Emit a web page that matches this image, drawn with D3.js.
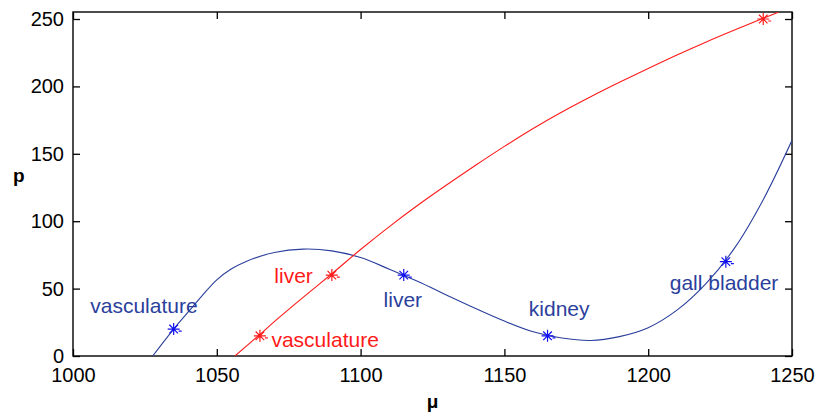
<!DOCTYPE html>
<html>
<head>
<meta charset="utf-8">
<script src="https://cdn.jsdelivr.net/npm/d3@7"></script>
<style>
  body { margin: 0; background: #fff; }
  svg { display: block; font-family: "Liberation Sans", Arial, sans-serif; }
  .axis text { font-size: 20px; fill: #000; }
  .axis line { stroke: #000; stroke-width: 1.3; }
  .axis path { display: none; }
</style>
</head>
<body>
<svg id="chart" width="817" height="412"></svg>
<script>
// blue curve
const blueMu = [1027.7, 1035, 1040, 1045, 1050, 1055, 1060, 1070, 1080, 1090, 1100, 1110, 1120, 1130, 1140, 1150, 1160, 1170, 1180, 1190, 1200, 1210, 1220, 1230, 1240, 1250];
const blueP  = [0, 20, 32.5, 45, 56.5, 64.5, 70, 76.8, 79.3, 78, 73, 64.4, 55.2, 45.1, 35.2, 25.9, 18, 13.3, 11.5, 14.4, 21, 34, 53.5, 80, 116, 160];
// red curve
const redMu = [1056.3, 1065, 1070, 1080, 1090, 1100, 1110, 1120, 1130, 1140, 1150, 1160, 1170, 1180, 1190, 1200, 1210, 1220, 1230, 1240, 1245.2];
const redP  = [0, 16, 25.5, 43.5, 61, 79, 96, 112, 127, 141.5, 155.5, 168.8, 181, 192.3, 203, 213.3, 223.3, 232.8, 241.8, 250.5, 255];
// marked tissues
const blueMarkMu = [1035, 1115, 1165, 1227];
const blueMarkP  = [20, 60, 15, 70];
const redMarkMu  = [1065, 1090, 1240];
const redMarkP   = [15, 60, 250];
// text annotations (left / baseline, data units)
const labelText  = ["vasculature", "liver", "kidney", "gall bladder", "liver", "vasculature"];
const labelMu    = [1006, 1108, 1158.5, 1207.5, 1070, 1069];
const labelP     = [32, 36.5, 29.7, 49, 54, 6.5];
const labelColor = ["blue", "blue", "blue", "blue", "red", "red"];
const xTicks = [1000, 1050, 1100, 1150, 1200, 1250];
const yTicks = [0, 50, 100, 150, 200, 250];

const colors = { blue: "#2b3f9c", blueMark: "#1010f0", red: "#ff1a1a" };

const margin = { top: 12, right: 25, bottom: 56, left: 73 },
      width = 817 - margin.left - margin.right,
      height = 412 - margin.top - margin.bottom;

const svg = d3.select("#chart").append("g")
    .attr("transform", "translate(" + margin.left + "," + margin.top + ")");

const x = d3.scaleLinear().domain([1000, 1250]).range([0, width]);
const y = d3.scaleLinear().domain([0, 255.2]).range([height, 0]);
const fmt = d3.format("d");

svg.append("g").attr("class", "axis")
    .attr("transform", "translate(0," + height + ")")
    .call(d3.axisBottom(x).tickValues(xTicks).tickFormat(fmt).tickSize(-7).tickPadding(12));
svg.append("g").attr("class", "axis")
    .call(d3.axisTop(x).tickValues(xTicks).tickSize(-7).tickFormat(""));
svg.append("g").attr("class", "axis")
    .call(d3.axisLeft(y).tickValues(yTicks).tickFormat(fmt).tickSize(-7).tickPadding(9));
svg.append("g").attr("class", "axis")
    .attr("transform", "translate(" + width + ",0)")
    .call(d3.axisRight(y).tickValues(yTicks).tickSize(-7).tickFormat(""));

svg.append("rect")
    .attr("width", width).attr("height", height)
    .attr("fill", "none").attr("stroke", "#000").attr("stroke-width", 1.4);

svg.append("clipPath").attr("id", "plotclip")
  .append("rect").attr("width", width).attr("height", height);

const line = d3.line()
    .x(d => x(d[0]))
    .y(d => y(d[1]))
    .curve(d3.curveCatmullRom);

const curves = [
  { mu: blueMu, p: blueP, color: colors.blue },
  { mu: redMu, p: redP, color: colors.red }
];

svg.append("g").attr("clip-path", "url(#plotclip)")
  .selectAll("path")
  .data(curves)
  .enter().append("path")
    .attr("d", d => line(d.mu.map((m, i) => [m, d.p[i]])))
    .attr("fill", "none")
    .attr("stroke", d => d.color)
    .attr("stroke-width", 1.1);

// asterisk markers
const marks = blueMarkMu.map((m, i) => ({ mu: m, p: blueMarkP[i], color: colors.blueMark }))
  .concat(redMarkMu.map((m, i) => ({ mu: m, p: redMarkP[i], color: colors.red })));

const star = "M0,-6V6M-6,0H6M-4.3,-4.3L4.3,4.3M-4.3,4.3L4.3,-4.3M5,2H8";

svg.selectAll(".mark")
  .data(marks)
  .enter().append("path")
    .attr("class", "mark")
    .attr("transform", d => "translate(" + x(d.mu) + "," + y(d.p) + ")")
    .attr("d", star)
    .attr("fill", "none")
    .attr("stroke", d => d.color)
    .attr("stroke-width", 1.2);

svg.selectAll(".label")
  .data(labelText)
  .enter().append("text")
    .attr("class", "label")
    .attr("x", (d, i) => x(labelMu[i]))
    .attr("y", (d, i) => y(labelP[i]))
    .attr("fill", (d, i) => labelColor[i] === "red" ? colors.red : colors.blue)
    .style("font-size", "21px")
    .text(d => d);

// axis titles
svg.append("text")
    .attr("x", -60).attr("y", 170)
    .style("font-size", "19px").style("font-weight", "bold")
    .text("p");
svg.append("text")
    .attr("x", width / 2).attr("y", 396)
    .attr("text-anchor", "middle")
    .style("font-size", "19px").style("font-weight", "bold")
    .text("μ");
</script>
</body>
</html>
